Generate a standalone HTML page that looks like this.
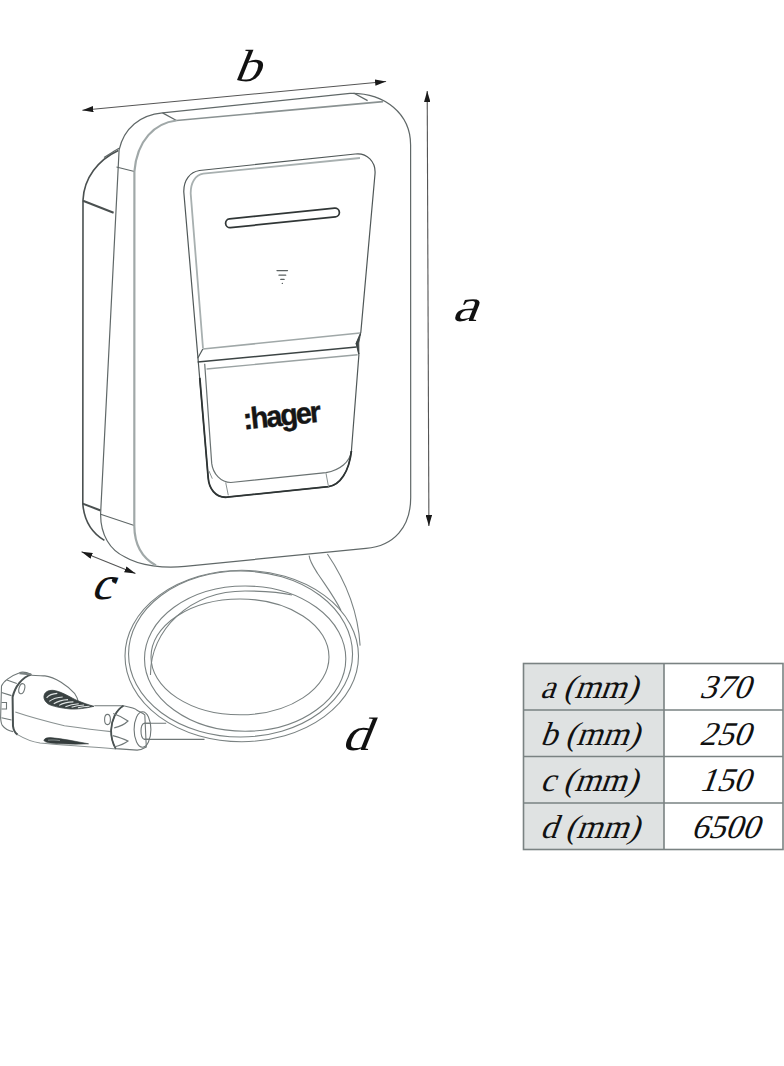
<!DOCTYPE html>
<html><head><meta charset="utf-8">
<style>
html,body{margin:0;padding:0;background:#fff;width:784px;height:1066px;overflow:hidden}
svg{position:absolute;left:0;top:0}
</style></head><body>
<svg width="784" height="1066" viewBox="0 0 784 1066">
<defs>
<marker id="ah" viewBox="0 0 11 6.4" refX="11" refY="3.2" markerWidth="11" markerHeight="6.4" markerUnits="userSpaceOnUse" orient="auto-start-reverse">
<path d="M0,0 L11,3.2 L0,6.4 Z" fill="#1a1a1a"/>
</marker>
</defs>

<!-- dimension arrows -->
<g stroke="#555" stroke-width="1.1" fill="none">
<path d="M82.4,110.2 L386.1,81.5" marker-start="url(#ah)" marker-end="url(#ah)"/>
<path d="M427.2,91 L428.9,526" marker-start="url(#ah)" marker-end="url(#ah)"/>
<path d="M81.5,551.8 L135.5,573.5" marker-start="url(#ah)" marker-end="url(#ah)"/>
</g>

<!-- back body -->
<g fill="none" stroke="#5f6666" stroke-width="1.3">
<path d="M118.3,150.5 C98,160 84,178 83,200 L82.8,503.6 C84,520 92,533 104.4,540.4" stroke="#4a5050" stroke-width="1.6"/>
<path d="M83,200.7 L113.6,212.7" stroke="#4a5050" stroke-width="2"/>
<path d="M82.7,503.6 L100.6,510.5" stroke="#4a5050" stroke-width="2"/>
<path d="M104,157.5 C110,154 115,150.5 119,148.3"/>
</g>

<!-- front face -->
<g fill="none" stroke="#606868" stroke-width="1.2">
<path d="M162.5,112.9 L350,93.3 C385,92.5 410.6,114 410.6,145 L410.7,497.5 C410.7,527 394,546 366,548.4 L185,566.3 C165,568.5 140,566 125,557 C110,550 100.5,535 100.6,514 L119.1,149.8 C124,128 140,115 162.5,112.9 Z"/>
<path d="M162.5,112.9 L176.5,120.5 M353.6,93 L367.6,100.6 M116.5,167 L134.4,171.5 M100.6,514.3 L135,525.8"/>
<path d="M176.5,120.5 L383,101.6" stroke="#8a9292" stroke-width="1.6"/>
<path d="M176.5,120.5 C155,123 137,140 134.4,171.5 L134.3,525.8 C134.5,545 142,558 156,565.5" stroke="#a0a8a8" stroke-width="2.2"/>
</g>

<!-- screen panel -->
<g fill="none" stroke="#505858" stroke-width="1.2">
<path d="M199.5,170.5 L355.2,154 C367,152.5 376,162 375,174 L360.8,332.5 L356.3,343.4 L358.9,354.8 L351.4,451 C349,472 340,485 328.5,486.7 L227,497.2 C215,498 209,488 208.2,478 L183.8,192 C183.5,180 190,172 199.5,170.5 Z"/>
<path d="M360,158 L203.3,173.7 C195,175 190.5,183 190.7,193.6 L203,348.3" stroke="#a8b0b0" stroke-width="1.8"/>
<path d="M202.8,349 L360,333" stroke="#a0a8a8" stroke-width="1.6"/>
<path d="M202.8,349 L197.7,358.3"/>
<path d="M197.7,362 L356.5,347" stroke="#3c4444" stroke-width="1.4"/>
<path d="M360.5,334 L356,343.5 L359,354 L358.8,343 Z" fill="#3c4444" stroke="#3c4444" stroke-width="0.8"/>
<path d="M206.6,369 L357.6,354.8" stroke="#9aa2a2" stroke-width="1.4"/>
<path d="M204.7,363.8 L211.7,463.4 C213,474 221,482.5 230.8,482.5 L326,472.7 C340,470 350,462 351.4,451" stroke="#6a7272"/>
<path d="M199.8,377.9 L208.2,478 C209,488 215,498 227,497.2 L328.5,486.7 C340,485 349,472 351.4,451" stroke="#2e3434" stroke-width="1.8"/>
<path d="M225.7,482.5 L228.3,495.3 M326,473.3 L328.5,486.7 M209,471 L212.3,478.7" stroke="#8a9292" stroke-width="1"/>
</g>

<!-- slot -->
<path d="M230,223.3 L335,212.5" stroke="#303636" stroke-width="10.5" stroke-linecap="round"/>
<path d="M230,223.3 L335,212.5" stroke="#fff" stroke-width="7" stroke-linecap="round"/>

<!-- icon -->
<g stroke="#5a6060" stroke-width="1.3" stroke-linecap="round">
<path d="M277,270.6 L287.5,270.6 M279,275.2 L285.7,275.2 M280.8,279.4 L284.1,279.4 M282.3,283.4 L282.4,283.4"/>
</g>

<!-- hager -->
<text transform="translate(244,429.5) rotate(-5.8) scale(0.96,1)" font-family="Liberation Sans" font-weight="bold" font-size="30" letter-spacing="-2.0" fill="#151515" stroke="#151515" stroke-width="0.45">:hager</text>

<!-- cable from box -->
<g fill="none" stroke="#7a8282" stroke-width="1.1">
<path d="M309.1,555.6 C310,562 313,566 318,574 C326,586 335,598 341,610.6"/>
<path d="M327.4,554 C345,580 358,610 360.1,645.6"/>
<ellipse cx="241.75" cy="656" rx="116.75" ry="85.7"/>
<ellipse cx="240.55" cy="654" rx="112" ry="83"/>
<ellipse cx="245.15" cy="658.65" rx="100.65" ry="72.65"/>
<ellipse cx="240" cy="656.9" rx="89" ry="57.9"/>
<path d="M150.5,675 C150,630 190,591 245,591 C265,591 280,592 292,595"/>
</g>

<!-- plug -->
<g fill="none" stroke="#6f7777" stroke-width="1.1">
<path d="M144,723.3 L166.2,723.3 M144,739.4 L204.5,739.4" />
<path d="M31.4,674.6 C26,672 21,672 19.1,673 C10,676 3,682 1.5,686 L0.6,718 C1,722 2,725 2.3,725.4 C5,729 9,731 13,731.6"/>
<path d="M6.9,680 L16.8,683.4 M1.5,692.5 L11.5,695.6 M1.5,717.8 L11.5,720"/>
<path d="M1.5,702.5 L6.5,702.5 L6.5,709 L1.5,709"/>
<path d="M31.4,675.3 C38,675.5 43,675.9 44.9,675.9 C55,677 68,686 74.8,693.7 C77,697 78,700 78.2,701.7"/>
<path d="M94.3,705.8 L123.4,705.7"/>
<path d="M15.3,712 C30,717 45,721 64.4,725.8 C80,728 95,730 111,731.6" stroke="#8a9292"/>
<path d="M17.6,734.6 C25,739 33,742 40,743 C60,745 90,746.5 116,749" stroke="#8a9292"/>
<ellipse cx="21.8" cy="688.7" rx="2.8" ry="5.2" transform="rotate(15 21.8 688.7)"/>
<ellipse cx="107.5" cy="719.5" rx="2.9" ry="5.1"/>
</g>
<path d="M31.4,674.6 C22,677 15,687 12.6,697 L13,726.2 C13.5,730 15,733 17.6,734.6" fill="none" stroke="#4a5252" stroke-width="2"/>
<path d="M19.5,673.2 L31,674.5" stroke="#7a8282" stroke-width="2"/>
<!-- collar -->
<g fill="#fff" stroke="#6f7777" stroke-width="1.1">
<path d="M144,723.3 C140,725 140,737 144,739.4"/>
<path d="M123.4,705.7 C130,707 136,709 137.1,710.3 C140,712 143,713.5 144.8,714.9 L146.3,747 C143,749 140,750 137.1,750.1 L115.7,748.6 C112,742 111,736 111.1,730.2 C111.5,720 116,710 123.4,705.7 Z" fill="none"/>
<path d="M123.4,705.7 C116,710 111.5,720 111.1,730.2 C111,736 112,742 115.7,748.6" fill="none" stroke="#4a5252" stroke-width="1.8"/>
<ellipse cx="142.5" cy="729.5" rx="8.4" ry="17.8" fill="none"/>
<path d="M144,723.3 L150,723.3 M144,739.4 L149,739.4" fill="none"/>
<path d="M113.2,713.4 C118,715 124,718 128,721 C124,725 118,727 114.2,727.9 M112.7,735.6 C118,737 124,739 128,741 C124,744 118,746 114.2,747" fill="none"/>
</g>
<path d="M43.9,697 C44,692 48,690.3 52.9,690.3 C60,691 68,696 76,700 C83,703 89,705 93.9,706.3 C85,708.5 77,709.3 70.7,709 C60,708 52,706 48.4,704.1 C45.5,702 43.9,699.5 43.9,697 Z" fill="#3a4242" stroke="#3a4242" stroke-width="0.8"/>
<g stroke="#dfe3e3" stroke-width="1.1" fill="none">
<path d="M46.6,697.9 C49,695 53,693.6 57.3,693.4 M49.3,701.4 C53,698.5 58,697.2 62.7,697 M53.75,703.7 C58,701 63,699.8 68,699.6 M59.1,705.4 C63,703 68,702 73.4,701.9 M65.4,706.8 C69,705 74,703.9 78.75,703.7 M71.6,707.2 C75,706 80,705.2 84.1,705 M77.9,707.7 C81,707 85,706.5 89.5,706.3"/>
</g>
<path d="M43.9,740.3 C44.5,738.3 47,737.6 50.2,737.6 C62,738.5 76,741.5 88.6,743.8 C76,744.5 60,744 50.2,743 C46.5,742.5 44,741.5 43.9,740.3 Z" fill="#343c3c" stroke="#343c3c" stroke-width="0.6"/>
<path d="M48,740.2 C52,739.8 56,740 60,740.6" stroke="#9aa2a2" stroke-width="0.8" fill="none"/>

<!-- labels -->
<g font-family="Liberation Serif" fill="#111">
<text transform="translate(233,81.3) skewX(-22) scale(1.18,1)" font-size="45">b</text>
<text transform="translate(451.5,320.5) skewX(-22) scale(1.22,1)" font-size="46.5">a</text>
<text transform="translate(90,599) skewX(-22) scale(1.06,1)" font-size="46.5">c</text>
<circle cx="114.3" cy="580.6" r="2.4" fill="#111" stroke="none"/>
<text transform="translate(341,750) skewX(-22) scale(1.17,1)" font-size="47">d</text>
</g>
</svg>

<!-- table -->
<svg width="784" height="1066" viewBox="0 0 784 1066">
<rect x="523.5" y="663.5" width="140.5" height="186" fill="#dfe2e2"/>
<g stroke="#7a8282" stroke-width="1.6" fill="none">
<rect x="523.5" y="663.5" width="259.5" height="186"/>
<path d="M664,663.5 L664,849.5 M523.5,710 L783,710 M523.5,756.5 L783,756.5 M523.5,803 L783,803"/>
</g>
<g font-family="Liberation Serif" font-size="33.3" fill="#111">
<text transform="translate(539.7,698.3) skewX(-20)">a (mm)</text>
<text transform="translate(539.7,744.8) skewX(-20)">b (mm)</text>
<text transform="translate(539.7,791.3) skewX(-20)">c (mm)</text>
<text transform="translate(539.7,837.8) skewX(-20)">d (mm)</text>
<text transform="translate(698.8,698.3) skewX(-20) scale(1.02,1)">370</text>
<text transform="translate(698.8,744.8) skewX(-20) scale(1.02,1)">250</text>
<text transform="translate(698.8,791.3) skewX(-20) scale(1.02,1)">150</text>
<text transform="translate(690.5,837.8) skewX(-20) scale(1.02,1)">6500</text>
</g>
</svg>
</body></html>
